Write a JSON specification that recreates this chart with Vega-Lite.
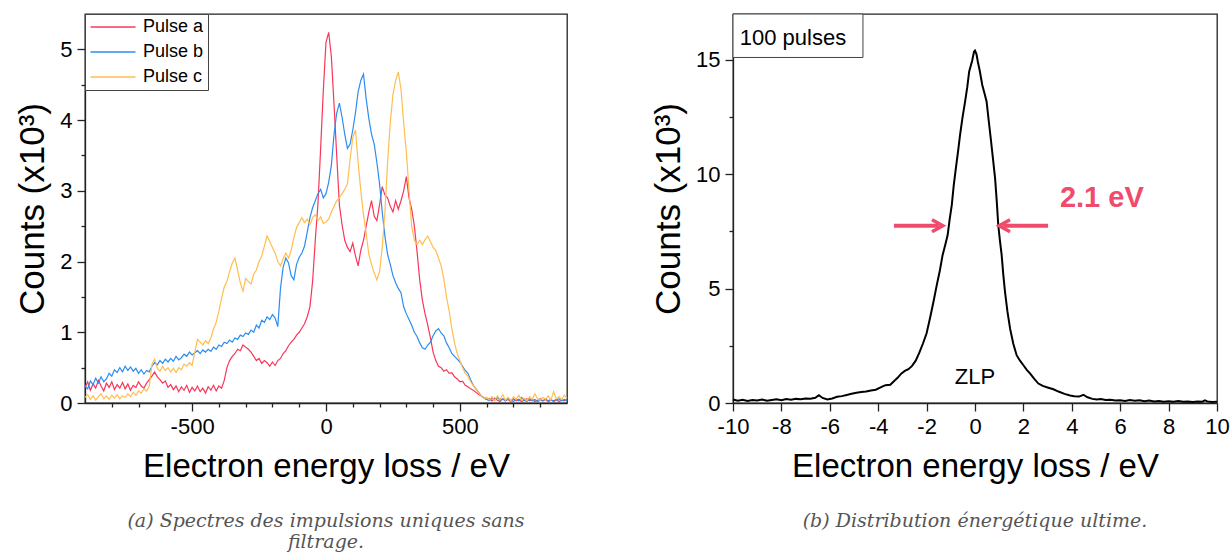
{
"$schema": "https://vega.github.io/schema/vega-lite/v6.json",
"padding": {"left": 15, "top": 12, "right": 10, "bottom": 0},
"background": "white",
"spacing": 166,
"bounds": "flush",
"config": {
  "font": "Liberation Sans",
  "view": {"stroke": "#222", "strokeWidth": 1.3},
  "axis": {"grid": false, "domainColor": "#222", "domainWidth": 1.3, "tickColor": "#222", "tickWidth": 1.3, "labelFlush": false,
    "labelFont": "Liberation Sans", "labelFontSize": 22, "labelColor": "black", "labelPadding": 5,
    "titleFont": "Liberation Sans", "titleFontSize": 33, "titleFontWeight": "normal", "titleColor": "black"},
  "axisY": {"titleFontSize": 35},
  "title": {"font": "DejaVu Serif", "fontStyle": "italic", "fontWeight": "normal", "fontSize": 19, "color": "#555", "orient": "bottom", "anchor": "middle", "lineHeight": 21, "offset": 29}
},
"datasets": {
  "pulses": [
{"x":-900,"a":0.22,"b":0.24,"c":0.08},{"x":-890,"a":0.30,"b":0.20,"c":0.12},{"x":-880,"a":0.18,"b":0.31,"c":0.05},{"x":-870,"a":0.27,"b":0.26,"c":0.10},
{"x":-860,"a":0.21,"b":0.35,"c":0.04},{"x":-850,"a":0.32,"b":0.28,"c":0.09},{"x":-840,"a":0.24,"b":0.37,"c":0.13},{"x":-830,"a":0.17,"b":0.30,"c":0.06},
{"x":-820,"a":0.28,"b":0.34,"c":0.10},{"x":-810,"a":0.22,"b":0.42,"c":0.05},{"x":-800,"a":0.30,"b":0.38,"c":0.11},{"x":-790,"a":0.19,"b":0.47,"c":0.07},
{"x":-780,"a":0.26,"b":0.43,"c":0.12},{"x":-770,"a":0.21,"b":0.50,"c":0.06},{"x":-760,"a":0.29,"b":0.44,"c":0.10},{"x":-750,"a":0.20,"b":0.52,"c":0.08},
{"x":-740,"a":0.27,"b":0.46,"c":0.13},{"x":-730,"a":0.18,"b":0.51,"c":0.09},{"x":-720,"a":0.25,"b":0.45,"c":0.15},{"x":-710,"a":0.22,"b":0.49,"c":0.11},
{"x":-700,"a":0.30,"b":0.42,"c":0.17},{"x":-690,"a":0.24,"b":0.47,"c":0.14},{"x":-680,"a":0.21,"b":0.41,"c":0.20},{"x":-670,"a":0.28,"b":0.46,"c":0.17},
{"x":-660,"a":0.33,"b":0.44,"c":0.24},{"x":-650,"a":0.38,"b":0.52,"c":0.55},{"x":-640,"a":0.44,"b":0.57,"c":0.62},{"x":-630,"a":0.37,"b":0.54,"c":0.49},
{"x":-620,"a":0.33,"b":0.60,"c":0.45},{"x":-610,"a":0.28,"b":0.56,"c":0.52},{"x":-600,"a":0.31,"b":0.62,"c":0.46},{"x":-590,"a":0.22,"b":0.58,"c":0.50},
{"x":-580,"a":0.26,"b":0.63,"c":0.44},{"x":-570,"a":0.19,"b":0.59,"c":0.49},{"x":-560,"a":0.24,"b":0.66,"c":0.43},{"x":-550,"a":0.16,"b":0.61,"c":0.50},
{"x":-540,"a":0.23,"b":0.64,"c":0.47},{"x":-530,"a":0.18,"b":0.69,"c":0.55},{"x":-520,"a":0.25,"b":0.66,"c":0.52},{"x":-510,"a":0.15,"b":0.72,"c":0.57},
{"x":-500,"a":0.22,"b":0.68,"c":0.53},{"x":-490,"a":0.17,"b":0.71,"c":0.72},{"x":-480,"a":0.24,"b":0.74,"c":0.90},{"x":-470,"a":0.16,"b":0.70,"c":0.86},
{"x":-460,"a":0.21,"b":0.75,"c":0.82},{"x":-450,"a":0.14,"b":0.72,"c":0.88},{"x":-440,"a":0.23,"b":0.76,"c":0.84},{"x":-430,"a":0.18,"b":0.73,"c":0.92},
{"x":-420,"a":0.25,"b":0.79,"c":1.05},{"x":-410,"a":0.17,"b":0.76,"c":1.14},{"x":-400,"a":0.24,"b":0.82,"c":1.30},{"x":-390,"a":0.21,"b":0.80,"c":1.48},
{"x":-380,"a":0.32,"b":0.86,"c":1.64},{"x":-370,"a":0.50,"b":0.84,"c":1.72},{"x":-360,"a":0.60,"b":0.89,"c":1.86},{"x":-350,"a":0.66,"b":0.86,"c":1.98},
{"x":-340,"a":0.70,"b":0.92,"c":2.05},{"x":-330,"a":0.76,"b":0.90,"c":1.88},{"x":-320,"a":0.74,"b":0.96,"c":1.70},{"x":-310,"a":0.82,"b":0.94,"c":1.58},
{"x":-300,"a":0.79,"b":0.99,"c":1.76},{"x":-290,"a":0.76,"b":0.97,"c":1.72},{"x":-280,"a":0.72,"b":1.03,"c":1.68},{"x":-270,"a":0.66,"b":1.00,"c":1.82},
{"x":-260,"a":0.60,"b":1.10,"c":1.88},{"x":-250,"a":0.63,"b":1.06,"c":2.00},{"x":-240,"a":0.56,"b":1.17,"c":2.08},{"x":-230,"a":0.60,"b":1.14,"c":2.22},
{"x":-220,"a":0.57,"b":1.22,"c":2.36},{"x":-210,"a":0.52,"b":1.18,"c":2.28},{"x":-200,"a":0.58,"b":1.25,"c":2.20},{"x":-190,"a":0.53,"b":1.20,"c":2.12},
{"x":-180,"a":0.60,"b":1.08,"c":2.00},{"x":-170,"a":0.63,"b":1.62,"c":1.94},{"x":-160,"a":0.70,"b":1.92,"c":2.04},{"x":-150,"a":0.74,"b":2.05,"c":2.12},
{"x":-140,"a":0.81,"b":1.98,"c":2.05},{"x":-130,"a":0.86,"b":1.80,"c":2.16},{"x":-120,"a":0.90,"b":1.74,"c":2.34},{"x":-110,"a":0.96,"b":1.96,"c":2.48},
{"x":-100,"a":1.00,"b":2.06,"c":2.55},{"x":-90,"a":1.06,"b":2.12,"c":2.62},{"x":-80,"a":1.12,"b":2.22,"c":2.55},{"x":-70,"a":1.22,"b":2.42,"c":2.60},
{"x":-60,"a":1.36,"b":2.62,"c":2.52},{"x":-50,"a":1.72,"b":2.76,"c":2.62},{"x":-40,"a":2.30,"b":2.86,"c":2.66},{"x":-30,"a":2.82,"b":2.96,"c":2.58},
{"x":-20,"a":3.60,"b":3.02,"c":2.63},{"x":-10,"a":4.42,"b":2.90,"c":2.54},{"x":0,"a":5.10,"b":2.96,"c":2.56},{"x":10,"a":5.24,"b":3.12,"c":2.60},
{"x":20,"a":4.90,"b":3.36,"c":2.70},{"x":30,"a":4.22,"b":3.80,"c":2.78},{"x":40,"a":3.50,"b":4.10,"c":2.86},{"x":50,"a":2.80,"b":4.24,"c":2.90},
{"x":60,"a":2.52,"b":4.04,"c":2.96},{"x":70,"a":2.30,"b":3.80,"c":3.02},{"x":80,"a":2.20,"b":3.60,"c":3.10},{"x":90,"a":2.14,"b":3.66,"c":3.45},
{"x":100,"a":2.26,"b":3.86,"c":3.75},{"x":110,"a":2.08,"b":4.10,"c":3.86},{"x":120,"a":1.94,"b":4.40,"c":3.40},{"x":130,"a":2.16,"b":4.56,"c":3.00},
{"x":140,"a":2.30,"b":4.65,"c":2.66},{"x":150,"a":2.50,"b":4.30,"c":2.40},{"x":160,"a":2.70,"b":4.02,"c":2.10},{"x":170,"a":2.86,"b":3.80,"c":1.96},
{"x":180,"a":2.64,"b":3.66,"c":1.84},{"x":190,"a":2.58,"b":3.40,"c":1.74},{"x":200,"a":2.80,"b":3.10,"c":1.86},{"x":210,"a":3.06,"b":2.70,"c":2.20},
{"x":220,"a":2.94,"b":2.36,"c":2.70},{"x":230,"a":2.90,"b":2.10,"c":3.40},{"x":240,"a":2.78,"b":1.96,"c":3.96},{"x":250,"a":2.70,"b":1.80,"c":4.36},
{"x":260,"a":2.86,"b":1.70,"c":4.56},{"x":270,"a":2.74,"b":1.62,"c":4.68},{"x":280,"a":2.86,"b":1.56,"c":4.44},{"x":290,"a":3.00,"b":1.36,"c":3.96},
{"x":300,"a":3.20,"b":1.26,"c":3.55},{"x":310,"a":2.90,"b":1.18,"c":3.00},{"x":320,"a":2.74,"b":1.10,"c":2.50},{"x":330,"a":2.50,"b":1.00,"c":2.30},
{"x":340,"a":2.14,"b":0.94,"c":2.24},{"x":350,"a":1.74,"b":0.85,"c":2.30},{"x":360,"a":1.45,"b":0.78,"c":2.24},{"x":370,"a":1.26,"b":0.76,"c":2.31},
{"x":380,"a":1.10,"b":0.82,"c":2.36},{"x":390,"a":0.92,"b":0.86,"c":2.28},{"x":400,"a":0.72,"b":0.95,"c":2.20},{"x":410,"a":0.60,"b":1.02,"c":2.16},
{"x":420,"a":0.52,"b":1.05,"c":2.05},{"x":430,"a":0.50,"b":0.99,"c":1.94},{"x":440,"a":0.45,"b":0.95,"c":1.75},{"x":450,"a":0.47,"b":0.85,"c":1.50},
{"x":460,"a":0.42,"b":0.78,"c":1.30},{"x":470,"a":0.43,"b":0.70,"c":1.05},{"x":480,"a":0.37,"b":0.66,"c":0.85},{"x":490,"a":0.34,"b":0.62,"c":0.70},
{"x":500,"a":0.30,"b":0.58,"c":0.60},{"x":510,"a":0.31,"b":0.52,"c":0.50},{"x":520,"a":0.25,"b":0.46,"c":0.42},{"x":530,"a":0.23,"b":0.42,"c":0.38},
{"x":540,"a":0.20,"b":0.33,"c":0.30},{"x":550,"a":0.18,"b":0.25,"c":0.25},{"x":560,"a":0.15,"b":0.20,"c":0.20},{"x":570,"a":0.12,"b":0.15,"c":0.14},
{"x":580,"a":0.10,"b":0.10,"c":0.10},{"x":590,"a":0.07,"b":0.07,"c":0.06},{"x":600,"a":0.05,"b":0.05,"c":0.08},{"x":610,"a":0.06,"b":0.03,"c":0.04},
{"x":620,"a":0.03,"b":0.07,"c":0.09},{"x":630,"a":0.07,"b":0.04,"c":0.03},{"x":640,"a":0.04,"b":0.08,"c":0.10},{"x":650,"a":0.02,"b":0.04,"c":0.05},
{"x":660,"a":0.06,"b":0.06,"c":0.12},{"x":670,"a":0.03,"b":0.03,"c":0.04},{"x":680,"a":0.05,"b":0.07,"c":0.08},{"x":690,"a":0.02,"b":0.04,"c":0.03},
{"x":700,"a":0.06,"b":0.02,"c":0.09},{"x":710,"a":0.03,"b":0.06,"c":0.05},{"x":720,"a":0.05,"b":0.03,"c":0.11},{"x":730,"a":0.02,"b":0.08,"c":0.04},
{"x":740,"a":0.04,"b":0.04,"c":0.07},{"x":750,"a":0.06,"b":0.02,"c":0.03},{"x":760,"a":0.03,"b":0.06,"c":0.09},{"x":770,"a":0.05,"b":0.03,"c":0.05},
{"x":780,"a":0.02,"b":0.05,"c":0.13},{"x":790,"a":0.04,"b":0.02,"c":0.06},{"x":800,"a":0.06,"b":0.04,"c":0.04},{"x":810,"a":0.03,"b":0.03,"c":0.08},
{"x":820,"a":0.05,"b":0.06,"c":0.05},{"x":830,"a":0.02,"b":0.03,"c":0.10},{"x":840,"a":0.04,"b":0.05,"c":0.04},{"x":850,"a":0.03,"b":0.02,"c":0.16},
{"x":860,"a":0.05,"b":0.04,"c":0.06},{"x":870,"a":0.02,"b":0.06,"c":0.09},{"x":880,"a":0.04,"b":0.03,"c":0.05},{"x":890,"a":0.03,"b":0.05,"c":0.11},
{"x":900,"a":0.05,"b":0.03,"c":0.07}
  ],
  "zlp": [
{"x":-10,"y":0.15},{"x":-9.8,"y":0.10},{"x":-9.6,"y":0.14},{"x":-9.4,"y":0.09},{"x":-9.2,"y":0.13},{"x":-9.0,"y":0.11},{"x":-8.8,"y":0.15},{"x":-8.6,"y":0.10},
{"x":-8.4,"y":0.13},{"x":-8.2,"y":0.16},{"x":-8.0,"y":0.12},{"x":-7.8,"y":0.17},{"x":-7.6,"y":0.14},{"x":-7.4,"y":0.18},{"x":-7.2,"y":0.16},{"x":-7.0,"y":0.20},
{"x":-6.8,"y":0.19},{"x":-6.6,"y":0.23},{"x":-6.45,"y":0.34},{"x":-6.3,"y":0.22},{"x":-6.1,"y":0.15},{"x":-5.9,"y":0.20},{"x":-5.7,"y":0.27},{"x":-5.5,"y":0.30},
{"x":-5.3,"y":0.35},{"x":-5.1,"y":0.40},{"x":-4.9,"y":0.45},{"x":-4.7,"y":0.48},{"x":-4.5,"y":0.50},{"x":-4.3,"y":0.55},{"x":-4.1,"y":0.58},{"x":-3.9,"y":0.68},
{"x":-3.7,"y":0.78},{"x":-3.5,"y":0.80},{"x":-3.35,"y":0.95},{"x":-3.2,"y":1.10},{"x":-3.05,"y":1.28},{"x":-2.9,"y":1.40},{"x":-2.75,"y":1.48},{"x":-2.6,"y":1.62},
{"x":-2.45,"y":1.85},{"x":-2.3,"y":2.20},{"x":-2.15,"y":2.60},{"x":-2.0,"y":3.05},{"x":-1.86,"y":3.70},{"x":-1.72,"y":4.40},{"x":-1.58,"y":5.15},{"x":-1.45,"y":5.80},
{"x":-1.34,"y":6.46},{"x":-1.22,"y":6.95},{"x":-1.13,"y":7.34},{"x":-1.05,"y":8.00},{"x":-0.96,"y":8.65},{"x":-0.88,"y":9.50},{"x":-0.79,"y":10.26},{"x":-0.70,"y":11.0},
{"x":-0.62,"y":11.70},{"x":-0.52,"y":12.45},{"x":-0.41,"y":13.17},{"x":-0.32,"y":13.80},{"x":-0.24,"y":14.49},{"x":-0.12,"y":14.95},{"x":-0.04,"y":15.35},{"x":0.0,"y":15.40},
{"x":0.06,"y":15.25},{"x":0.12,"y":14.9},{"x":0.2,"y":14.5},{"x":0.3,"y":13.9},{"x":0.4,"y":13.5},{"x":0.48,"y":13.17},{"x":0.56,"y":12.4},{"x":0.65,"y":11.57},
{"x":0.74,"y":10.7},{"x":0.83,"y":9.82},{"x":0.90,"y":8.8},{"x":0.96,"y":7.79},{"x":1.03,"y":7.1},{"x":1.1,"y":6.48},{"x":1.17,"y":5.6},{"x":1.24,"y":4.86},
{"x":1.34,"y":4.0},{"x":1.45,"y":3.25},{"x":1.58,"y":2.6},{"x":1.72,"y":2.09},{"x":1.86,"y":1.85},{"x":2.0,"y":1.65},{"x":2.14,"y":1.45},{"x":2.28,"y":1.28},
{"x":2.45,"y":1.05},{"x":2.62,"y":0.85},{"x":2.8,"y":0.75},{"x":3.0,"y":0.68},{"x":3.24,"y":0.60},{"x":3.45,"y":0.50},{"x":3.7,"y":0.40},{"x":3.93,"y":0.33},
{"x":4.1,"y":0.30},{"x":4.3,"y":0.28},{"x":4.48,"y":0.36},{"x":4.65,"y":0.25},{"x":4.85,"y":0.18},{"x":5.03,"y":0.15},{"x":5.2,"y":0.17},{"x":5.4,"y":0.13},
{"x":5.6,"y":0.14},{"x":5.8,"y":0.11},{"x":6.0,"y":0.12},{"x":6.2,"y":0.09},{"x":6.4,"y":0.13},{"x":6.6,"y":0.10},{"x":6.8,"y":0.12},{"x":7.0,"y":0.08},
{"x":7.2,"y":0.11},{"x":7.4,"y":0.07},{"x":7.6,"y":0.09},{"x":7.8,"y":0.05},{"x":8.0,"y":0.08},{"x":8.2,"y":0.06},{"x":8.4,"y":0.09},{"x":8.6,"y":0.05},
{"x":8.8,"y":0.06},{"x":9.0,"y":0.04},{"x":9.2,"y":0.07},{"x":9.4,"y":0.06},{"x":9.5,"y":0.12},{"x":9.6,"y":0.07},{"x":9.8,"y":0.04},{"x":10,"y":0.06}
  ]
},
"hconcat": [
  {
    "width": 482, "height": 389,
    "title": {"text": ["(a) Spectres des impulsions uniques sans", "filtrage."]},
    "data": {"name": "pulses"},
    "transform": [{"fold": ["a", "b", "c"], "as": ["series", "value"]}],
    "mark": {"type": "line", "strokeWidth": 1.2},
    "encoding": {
      "x": {"field": "x", "type": "quantitative", "scale": {"domain": [-900, 900], "nice": false, "zero": false},
        "axis": {"title": "Electron energy loss / eV", "titlePadding": 13,
          "values": [-800,-700,-600,-500,-400,-300,-200,-100,0,100,200,300,400,500,600,700,800],
          "labelExpr": "datum.value % 500 === 0 ? toString(datum.value) : ''",
          "tickSize": {"condition": {"test": "datum.value % 500 === 0", "value": 8}, "value": 4}}},
      "y": {"field": "value", "type": "quantitative", "scale": {"domain": [0, 5.5], "nice": false},
        "axis": {"title": "Counts (x10³)", "titlePadding": 9,
          "values": [0,0.5,1,1.5,2,2.5,3,3.5,4,4.5,5],
          "labelExpr": "datum.value % 1 === 0 ? toString(datum.value) : ''",
          "tickSize": {"condition": {"test": "datum.value % 1 === 0", "value": 8}, "value": 4}}},
      "color": {"field": "series", "type": "nominal",
        "scale": {"domain": ["a", "b", "c"], "range": ["#F8365A", "#2D8CF0", "#FFBE50"]},
        "legend": {"title": null, "orient": "top-left", "offset": 0, "padding": 4,
          "labelExpr": "'Pulse ' + datum.label", "labelFont": "Liberation Sans", "labelFontSize": 18, "labelColor": "black",
          "symbolType": "M-1,0H5", "symbolSize": 225, "symbolStrokeWidth": 1.5, "labelOffset": 36, "rowPadding": 7,
          "strokeColor": "#444", "fillColor": "white"}}
    }
  },
  {
    "width": 484, "height": 389,
    "title": {"text": "(b) Distribution énergétique ultime."},
    "layer": [
      {
        "data": {"values": [{"x": -10, "x2": -4.63, "y": 15.1, "y2": 17}]},
        "mark": {"type": "rect", "fill": "white", "stroke": "#444", "strokeWidth": 1},
        "encoding": {"x": {"field": "x", "type": "quantitative"}, "x2": {"field": "x2"}, "y": {"field": "y", "type": "quantitative"}, "y2": {"field": "y2"}}
      },
      {
        "data": {"name": "zlp"},
        "mark": {"type": "line", "color": "black", "strokeWidth": 2},
        "encoding": {
          "x": {"field": "x", "type": "quantitative", "scale": {"domain": [-10, 10], "nice": false, "zero": false},
            "axis": {"title": "Electron energy loss / eV", "titlePadding": 13,
              "values": [-10,-9,-8,-7,-6,-5,-4,-3,-2,-1,0,1,2,3,4,5,6,7,8,9,10],
              "labelExpr": "datum.value % 2 === 0 ? toString(datum.value) : ''",
              "tickSize": {"condition": {"test": "datum.value % 2 === 0", "value": 8}, "value": 4}}},
          "y": {"field": "y", "type": "quantitative", "scale": {"domain": [0, 17], "nice": false},
            "axis": {"title": "Counts (x10³)", "titlePadding": 9,
              "values": [0,2.5,5,7.5,10,12.5,15],
              "labelExpr": "datum.value % 5 === 0 ? toString(datum.value) : ''",
              "tickSize": {"condition": {"test": "datum.value % 5 === 0", "value": 8}, "value": 4}}}
        }
      },
      {
        "data": {"values": [{"x": -9.72, "y": 15.97, "label": "100 pulses"}]},
        "mark": {"type": "text", "fontSize": 22, "color": "black", "baseline": "middle", "align": "left"},
        "encoding": {"x": {"field": "x", "type": "quantitative"}, "y": {"field": "y", "type": "quantitative"}, "text": {"field": "label"}}
      },
      {
        "data": {"values": [{"x": 0, "y": 1.14, "label": "ZLP"}]},
        "mark": {"type": "text", "fontSize": 22, "color": "black", "baseline": "middle", "align": "center"},
        "encoding": {"x": {"field": "x", "type": "quantitative"}, "y": {"field": "y", "type": "quantitative"}, "text": {"field": "label"}}
      },
      {
        "data": {"values": [{"x": 5.24, "y": 8.98, "label": "2.1 eV"}]},
        "mark": {"type": "text", "fontSize": 29, "fontWeight": "bold", "color": "#EF4B6C", "baseline": "middle", "align": "center"},
        "encoding": {"x": {"field": "x", "type": "quantitative"}, "y": {"field": "y", "type": "quantitative"}, "text": {"field": "label"}}
      },
      {
        "data": {"values": [{"x": -3.35, "x2": -1.5, "y": 7.75}, {"x": 3.02, "x2": 1.17, "y": 7.75}]},
        "mark": {"type": "rule", "color": "#EF4B6C", "strokeWidth": 4},
        "encoding": {"x": {"field": "x", "type": "quantitative"}, "x2": {"field": "x2"}, "y": {"field": "y", "type": "quantitative"}}
      },
      {
        "data": {"values": [{"x": -1.33, "y": 7.75, "dir": "right"}, {"x": 1.0, "y": 7.75, "dir": "left"}]},
        "mark": {"type": "point", "filled": false, "color": "#EF4B6C", "strokeWidth": 3.5, "size": 144, "opacity": 1},
        "encoding": {"x": {"field": "x", "type": "quantitative"}, "y": {"field": "y", "type": "quantitative"},
          "shape": {"field": "dir", "type": "nominal", "scale": {"domain": ["right", "left"], "range": ["M-1.8,-1L0,0L-1.8,1", "M1.8,-1L0,0L1.8,1"]}, "legend": null}}
      }
    ]
  }
]
}
